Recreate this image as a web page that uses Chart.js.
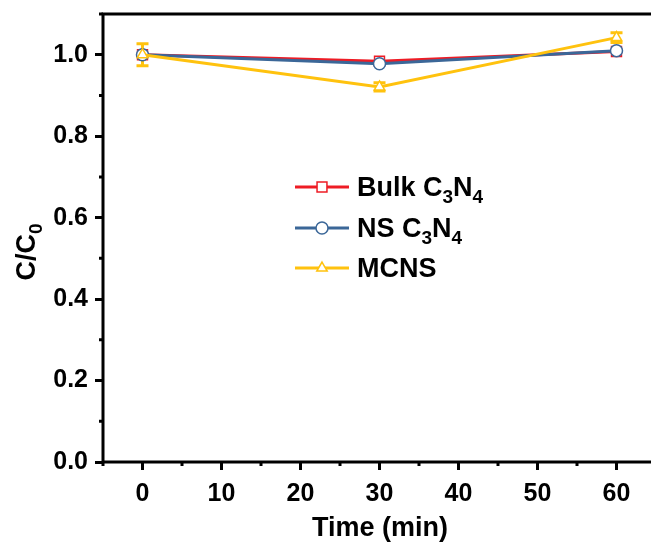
<!DOCTYPE html>
<html><head><meta charset="utf-8">
<script src="https://cdn.jsdelivr.net/npm/chart.js@4/dist/chart.umd.min.js"></script>
<style>html,body{margin:0;padding:0;overflow:hidden;background:#fff}#wrap{width:670px;height:552px}</style>
</head><body><div id="wrap"><canvas id="c" width="670" height="552"></canvas></div>
<script>
const times = [0, 30, 60];
const bulk = [1.0, 0.984, 1.008];
const ns = [1.0, 0.978, 1.010];
const mcns = [1.0, 0.921, 1.042];
const mcnsErr = [0.027, 0.010, 0.012];
const xTicks = [0, 10, 20, 30, 40, 50, 60];
const yTicks = [0, 0.2, 0.4, 0.6, 0.8, 1.0];
const xMinor = [-5, 5, 15, 25, 35, 45, 55, 65];
const yMinor = [0.1, 0.3, 0.5, 0.7, 0.9, 1.1];
const legendNames = [
  [['Bulk C', 0], ['3', 1], ['N', 0], ['4', 1]],
  [['NS C', 0], ['3', 1], ['N', 0], ['4', 1]],
  [['MCNS', 0]]
];
const xTitle = 'Time (min)';
const yTitle = [['C/C', 0], ['0', 1]];

const FONT = "'Liberation Sans', Arial, sans-serif";
const RED = '#EE1C25', BLUE = '#3B6798', YEL = '#FFC20E';

function drawRich(ctx, parts, x, y, size, subSize, align) {
  let w = 0;
  parts.forEach(p => { ctx.font = 'bold ' + (p[1] ? subSize : size) + 'px ' + FONT; w += ctx.measureText(p[0]).width; });
  let cx = align === 'center' ? x - w / 2 : x;
  ctx.textBaseline = 'alphabetic'; ctx.textAlign = 'left';
  parts.forEach(p => {
    ctx.font = 'bold ' + (p[1] ? subSize : size) + 'px ' + FONT;
    ctx.fillText(p[0], cx, y + (p[1] ? size * 0.25 : 0));
    cx += ctx.measureText(p[0]).width;
  });
}

const toPts = (arr) => times.map((t, i) => ({x: t, y: arr[i]}));

const deco = {
  id: 'deco',
  beforeDatasetsDraw(chart) {
    const {ctx, scales: {x, y}} = chart;
    ctx.save();
    ctx.strokeStyle = YEL; ctx.lineWidth = 3;
    times.forEach((t, i) => {
      const px = x.getPixelForValue(t);
      const y1 = y.getPixelForValue(mcns[i] + mcnsErr[i]);
      const y2 = y.getPixelForValue(mcns[i] - mcnsErr[i]);
      ctx.beginPath();
      ctx.moveTo(px, y1); ctx.lineTo(px, y2);
      ctx.moveTo(px - 6, y1); ctx.lineTo(px + 6, y1);
      ctx.moveTo(px - 6, y2); ctx.lineTo(px + 6, y2);
      ctx.stroke();
    });
    ctx.restore();
  },
  afterDraw(chart) {
    const {ctx, chartArea: a, scales: {x, y}} = chart;
    ctx.save();
    ctx.strokeStyle = '#000'; ctx.lineWidth = 3;
    ctx.strokeRect(a.left, a.top, a.right - a.left, a.bottom - a.top);
    ctx.lineWidth = 3;
    ctx.beginPath();
    xMinor.forEach(v => { const px = x.getPixelForValue(v); ctx.moveTo(px, a.bottom); ctx.lineTo(px, a.bottom + 4); });
    yMinor.forEach(v => { const py = y.getPixelForValue(v); ctx.moveTo(a.left, py); ctx.lineTo(a.left - 4, py); });
    ctx.stroke();
    // legend
    const cols = [RED, BLUE, YEL], styles = ['rect', 'circle', 'triangle'];
    const rowsY = [187, 228, 268];
    ctx.fillStyle = '#000';
    rowsY.forEach((ry, i) => {
      ctx.strokeStyle = cols[i]; ctx.lineWidth = 3;
      ctx.beginPath(); ctx.moveTo(295, ry); ctx.lineTo(349, ry); ctx.stroke();
      ctx.fillStyle = '#fff'; ctx.lineWidth = 1.5;
      Chart.helpers.drawPoint(ctx, {pointStyle: styles[i], radius: i === 0 ? 7 : 6, rotation: 0, borderWidth: 1.5}, 322, ry);
      ctx.fillStyle = '#000';
      drawRich(ctx, legendNames[i], 357, ry + 9, 27, 19, 'left');
    });
    // axis titles
    ctx.fillStyle = '#000';
    drawRich(ctx, [[xTitle, 0]], 380, 536, 27, 19, 'center');
    ctx.translate(35, 252); ctx.rotate(-Math.PI / 2);
    drawRich(ctx, yTitle, 0, 0, 27, 19, 'center');
    ctx.restore();
  }
};

function noPad(s) { s.paddingTop = 0; s.paddingBottom = 0; s.paddingLeft = 0; s.paddingRight = 0; }

new Chart(document.getElementById('c'), {
  type: 'line',
  data: {
    datasets: [
      {label: 'Bulk', data: toPts(bulk), borderColor: RED, backgroundColor: '#fff', borderWidth: 3, pointStyle: 'rect', pointRadius: 7, pointBorderWidth: 1.5, pointBackgroundColor: '#fff', pointBorderColor: RED, tension: 0, order: 3},
      {label: 'NS', data: toPts(ns), borderColor: BLUE, backgroundColor: '#fff', borderWidth: 3, pointStyle: 'circle', pointRadius: 6, pointBorderWidth: 1.5, pointBackgroundColor: '#fff', pointBorderColor: BLUE, tension: 0, order: 2},
      {label: 'MCNS', data: toPts(mcns), borderColor: YEL, backgroundColor: '#fff', borderWidth: 3, pointStyle: 'triangle', pointRadius: 6, pointBorderWidth: 1.5, pointBackgroundColor: '#fff', pointBorderColor: YEL, tension: 0, order: 1}
    ]
  },
  options: {
    responsive: false, animation: false, devicePixelRatio: 1,
    layout: {padding: {top: 14, right: 14, left: 0, bottom: 0}},
    plugins: {legend: {display: false}, tooltip: {enabled: false}},
    scales: {
      x: {
        type: 'linear', min: -5, max: 65,
        afterBuildTicks: s => { s.ticks = xTicks.map(v => ({value: v})); },
        afterFit: s => { s.height = 90; noPad(s); },
        grid: {drawOnChartArea: false, drawTicks: true, tickLength: 8, tickWidth: 3, tickColor: '#000'},
        border: {display: false},
        ticks: {color: '#000', padding: 9, maxRotation: 0, font: {family: FONT, size: 25, weight: 'bold'}, callback: v => String(v)}
      },
      y: {
        type: 'linear', min: 0, max: 1.1,
        afterBuildTicks: s => { s.ticks = yTicks.map(v => ({value: v})); },
        afterFit: s => { s.width = 103; noPad(s); },
        grid: {drawOnChartArea: false, drawTicks: true, tickLength: 8, tickWidth: 3, tickColor: '#000'},
        border: {display: false},
        ticks: {color: '#000', padding: 7, font: {family: FONT, size: 25, weight: 'bold'}, callback: v => Number(v).toFixed(1)}
      }
    }
  },
  plugins: [deco]
});
</script>
</body></html>
